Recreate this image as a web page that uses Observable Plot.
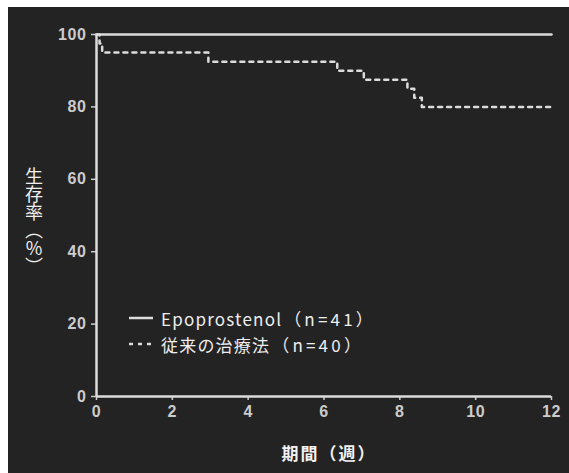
<!DOCTYPE html>
<html>
<head>
<meta charset="utf-8">
<script src="https://cdn.jsdelivr.net/npm/d3@7"></script>
<script src="https://cdn.jsdelivr.net/npm/@observablehq/plot@0.6"></script>
<style>
  html, body { margin: 0; padding: 0; background: #ffffff; }
  body { position: relative; width: 569px; height: 473px; overflow: hidden; }
  #chart { position: absolute; left: 8px; top: 7px; width: 561px; height: 466px; background: #232323; }
  #chart svg text { letter-spacing: 0.6px; }
  .ylabel { position: absolute; left: 24px; top: 167px; writing-mode: vertical-rl; text-orientation: upright;
    font-family: "Noto Sans CJK JP", sans-serif; font-size: 18px; color: #eeeeee; line-height: 20px; letter-spacing: 0px; }
  .xlabel { position: absolute; left: 329px; top: 452px; transform: translate(-50%, -50%);
    font-family: "Noto Sans CJK JP", sans-serif; font-size: 17px; font-weight: bold; color: #f2f2f2; white-space: nowrap; letter-spacing: 2px; }
  .legend { position: absolute; left: 128px; top: 305px; font-family: "Noto Sans CJK JP", sans-serif; font-size: 17px; color: #eeeeee; }
  .legend .row { display: flex; align-items: center; height: 26px; white-space: nowrap; letter-spacing: 1.2px; }
  .legend .row .n { letter-spacing: 3.2px; margin-left: 2px; }
  .legend svg { margin-right: 7px; }
</style>
</head>
<body>
<div id="chart"></div>
<div class="ylabel">生存率（%）</div>
<div class="xlabel">期間（週）</div>
<div class="legend" id="legend"></div>
<script>
const seriesNames = ["Epoprostenol", "従来の治療法"];
const seriesCounts = ["（n=41）", "（n=40）"];
const epoWeeks = [0, 12];
const epoSurvival = [100, 100];
const convWeeks = [0, 0.08, 0.15, 2.95, 6.35, 7.05, 8.2, 8.38, 8.58, 12];
const convSurvival = [100, 97.5, 95, 92.5, 90, 87.5, 85, 82.5, 80, 80];
const xTicks = [0, 2, 4, 6, 8, 10, 12];
const yTicks = [0, 20, 40, 60, 80, 100];

const epo = epoWeeks.map((w, i) => ({week: w, surv: epoSurvival[i]}));
const conv = convWeeks.map((w, i) => ({week: w, surv: convSurvival[i]}));

const lineColor = "#dcdcdc";
const dash = "4,5";

const plot = Plot.plot({
  width: 561,
  height: 466,
  marginLeft: 88,
  marginRight: 18,
  marginTop: 27,
  marginBottom: 77,
  style: {background: "#232323", color: "#cccccc", fontFamily: "'Liberation Sans', Arial, sans-serif", fontSize: "16px", fontWeight: "bold"},
  x: {domain: [0, 12]},
  y: {domain: [0, 100]},
  marks: [
    Plot.axisX({ticks: xTicks, tickSize: 4, tickPadding: 5, label: null, strokeWidth: 1.5}),
    Plot.axisY({ticks: yTicks, tickSize: 5, tickPadding: 5, label: null, strokeWidth: 1.5}),
    Plot.ruleX([0], {stroke: lineColor, strokeWidth: 2.5}),
    Plot.ruleY([0], {stroke: lineColor, strokeWidth: 2.5}),
    Plot.line(epo, {x: "week", y: "surv", curve: "step-after", stroke: lineColor, strokeWidth: 2.5}),
    Plot.line(conv, {x: "week", y: "surv", curve: "step-after", stroke: lineColor, strokeWidth: 2.5, strokeDasharray: dash})
  ]
});
document.getElementById("chart").appendChild(plot);

const legend = document.getElementById("legend");
seriesNames.forEach((name, i) => {
  const row = document.createElement("div");
  row.className = "row";
  row.innerHTML = `<svg width="26" height="6"><line x1="1" y1="3" x2="25" y2="3" stroke="${lineColor}" stroke-width="2.5" ${i === 1 ? `stroke-dasharray="${dash}"` : ""}/></svg><span>${name}</span><span class="n">${seriesCounts[i]}</span>`;
  legend.appendChild(row);
});
</script>
</body>
</html>
